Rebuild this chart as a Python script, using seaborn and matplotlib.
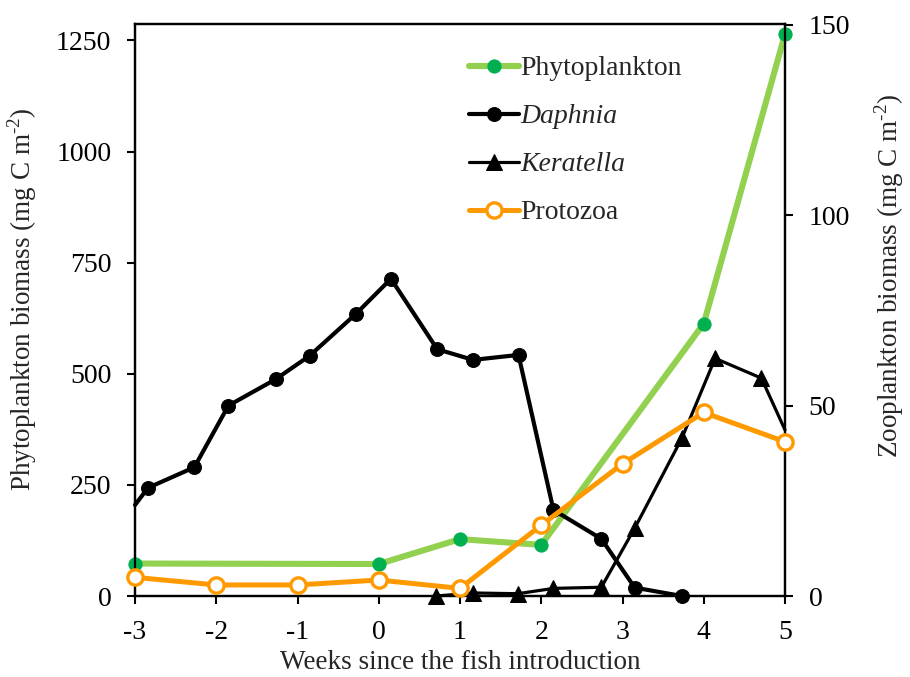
import matplotlib
matplotlib.use("Agg")
import matplotlib.pyplot as plt
import seaborn as sns
import pandas as pd

# Phytoplankton biomass (left axis, mg C m-2)
phyto_weeks = [-3, 0, 1, 2, 4, 5]
phyto_biomass = [73, 72, 128, 115, 613, 1264]

# Daphnia biomass (right axis, mg C m-2); first value is the line start at the axis edge
daphnia_weeks = [-3.0, -2.84, -2.27, -1.85, -1.27, -0.85, -0.28, 0.15, 0.72, 1.16, 1.72, 2.15, 2.74, 3.15, 3.73]
daphnia_biomass = [23.9, 28.4, 33.8, 50.0, 56.9, 63.1, 74.1, 83.3, 64.8, 62.0, 63.3, 22.6, 15.0, 2.2, 0.0]

# Keratella biomass (right axis); last value is the line end at the axis edge
keratella_weeks = [0.71, 1.16, 1.71, 2.15, 2.74, 3.15, 3.73, 4.14, 4.71, 5.0]
keratella_biomass = [0.0, 0.8, 0.6, 2.0, 2.3, 17.8, 41.4, 62.4, 57.2, 43.6]

# Protozoa biomass (right axis)
protozoa_weeks = [-3, -2, -1, 0, 1, 2, 3, 4, 5]
protozoa_biomass = [4.9, 2.9, 2.9, 4.2, 2.0, 18.6, 34.7, 48.2, 40.5]

x_ticks = [-3, -2, -1, 0, 1, 2, 3, 4, 5]
left_ticks = [0, 250, 500, 750, 1000, 1250]
right_ticks = [0, 50, 100, 150]

sns.set_theme(style="ticks")
plt.rcParams["font.family"] = ["Liberation Serif", "DejaVu Serif"]
plt.rcParams["mathtext.fontset"] = "custom"
plt.rcParams["mathtext.rm"] = "Liberation Serif"

GREEN_LINE = "#92D050"
GREEN_DOT = "#00B050"
ORANGE = "#FF9900"

fig = plt.figure(figsize=(9.10, 6.77), dpi=100)
ax = fig.add_axes([135 / 910, 1 - 596 / 677, 650 / 910, 572 / 677])
ax2 = ax.twinx()

phyto = pd.DataFrame({"week": phyto_weeks, "biomass": phyto_biomass})
daphnia = pd.DataFrame({"week": daphnia_weeks, "biomass": daphnia_biomass})
keratella = pd.DataFrame({"week": keratella_weeks, "biomass": keratella_biomass})
protozoa = pd.DataFrame({"week": protozoa_weeks, "biomass": protozoa_biomass})

sns.lineplot(data=phyto, x="week", y="biomass", ax=ax, color=GREEN_LINE, lw=4.4,
             marker="o", markersize=9.5, markerfacecolor=GREEN_DOT, markeredgecolor=GREEN_DOT,
             label="Phytoplankton", legend=False, clip_on=False, zorder=3)

sns.lineplot(data=daphnia, x="week", y="biomass", ax=ax2, color="black", lw=3.0,
             marker="o", markersize=10, markerfacecolor="black", markeredgecolor="black",
             markevery=list(range(1, len(daphnia_weeks))),
             label="Daphnia", legend=False, clip_on=False, zorder=3)

sns.lineplot(data=keratella, x="week", y="biomass", ax=ax2, color="black", lw=2.3,
             marker="^", markersize=12, markerfacecolor="black", markeredgecolor="black",
             markevery=list(range(0, len(keratella_weeks) - 1)),
             label="Keratella", legend=False, clip_on=False, zorder=4)

sns.lineplot(data=protozoa, x="week", y="biomass", ax=ax2, color=ORANGE, lw=3.6,
             marker="o", markersize=11, markerfacecolor="white", markeredgecolor=ORANGE,
             markeredgewidth=2.4, label="Protozoa", legend=False, clip_on=False, zorder=5)

ax.set_xlim(-3, 5)
ax.set_ylim(0, 1287)
ax2.set_ylim(0, 150.2)
ax.set_xticks(x_ticks)
ax.set_xticklabels([str(t) for t in x_ticks])
ax.set_yticks(left_ticks)
ax2.set_yticks(right_ticks)

for a in (ax, ax2):
    for s in a.spines.values():
        s.set_linewidth(1.6)
        s.set_color("black")
    a.tick_params(axis="both", direction="out", length=6, width=1.5, pad=11,
                  labelsize=20, colors="black")

ax.set_xlabel("Weeks since the fish introduction", fontsize=19.5, labelpad=4)
ax.set_ylabel("Phytoplankton biomass (mg C m$^{\\text{-2}}$)", fontsize=19.5)
ax.yaxis.set_label_coords(-0.148, 0.519)
ax2.set_ylabel("Zooplankton biomass (mg C m$^{\\text{-2}}$)", fontsize=19.5,
               rotation=90)
ax2.yaxis.set_label_coords(1.134, 0.559)

h1, l1 = ax.get_legend_handles_labels()
h2, l2 = ax2.get_legend_handles_labels()
leg = fig.legend(h1 + h2, l1 + l2, loc="upper left", bbox_to_anchor=(469 / 910, 1 - 56 / 677),
                 frameon=False, fontsize=20, handlelength=1.8, handletextpad=0.05,
                 labelspacing=0.81, borderpad=0, borderaxespad=0, numpoints=1)
for t in leg.get_texts():
    if t.get_text() in ("Daphnia", "Keratella"):
        t.set_fontstyle("italic")

fig.savefig("out.png", dpi=100)
